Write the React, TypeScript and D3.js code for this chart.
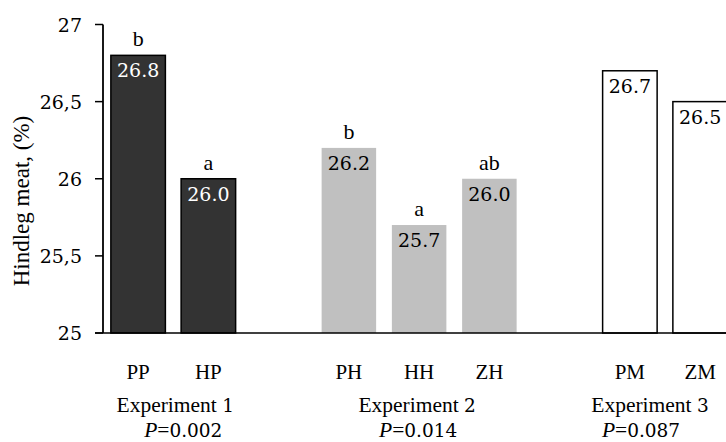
import React from 'react'
import * as d3 from 'd3'

// bars, in drawing order
const categories = ['PP', 'HP', 'PH', 'HH', 'ZH', 'PM', 'ZM']
const values = [26.8, 26.0, 26.2, 25.7, 26.0, 26.7, 26.5]
const letters = ['b', 'a', 'b', 'a', 'ab', '', '']
const groupOf = [0, 0, 1, 1, 1, 2, 2]
const experimentNames = ['Experiment', 'Experiment', 'Experiment']
const experimentNums = ['1', '2', '3']
const pValues = ['0.002', '0.014', '0.087']
const yTicks = [25, 25.5, 26, 26.5, 27]

const W = 726
const H = 442
const FONT = '"Liberation Serif", "Times New Roman", serif'
// digits come out sans in the serif face here, so numbers use DejaVu Serif a bit smaller
const NUM = '"DejaVu Serif", serif'
const NUM_SIZE = 19

const groupFill = ['#333333', '#c0c0c0', '#ffffff']
const groupStroke = ['#000000', 'none', '#000000']
const groupText = ['#ffffff', '#000000', '#000000']
// small nudges of the group captions (the source figure was cropped on the right)
const expNudge = [2, -2, -15]
const pNudge = [10, -1, -24]

export default function App() {
  // slots with a spacer between experiments
  const slots: string[] = []
  categories.forEach((c, i) => {
    if (i > 0 && groupOf[i] !== groupOf[i - 1]) slots.push('gap' + i)
    slots.push(c)
  })

  const axisX = 103
  const y = d3.scaleLinear().domain([25, 27]).range([333, 24.5])
  const x = d3.scaleBand<string>()
    .domain(slots)
    .range([axisX, axisX + 632.25])
    .paddingInner(0.224)
    .paddingOuter(0.112)
  const bw = x.bandwidth()
  const fmtTick = (v: number) => d3.format('.1~f')(v).replace('.', ',')

  const groupCenter = (g: number) => {
    const xs = categories.filter((_, i) => groupOf[i] === g).map(c => (x(c) as number) + bw / 2)
    return (d3.min(xs)! + d3.max(xs)!) / 2
  }

  return (
    <svg width={W} height={H} style={{ position: 'absolute', left: 0, top: 0, fontFamily: FONT }}>
      <rect width={W} height={H} fill="#fff" />

      {/* bars */}
      {categories.map((c, i) => {
        const g = groupOf[i]
        const x0 = x(c) as number
        const top = y(values[i])
        return (
          <g key={c}>
            <rect x={x0} y={top} width={bw} height={y(25) - top}
              fill={groupFill[g]} stroke={groupStroke[g]} strokeWidth={1.5} />
            <text x={x0 + bw / 2} y={top + 22} textAnchor="middle" fontFamily={NUM} fontSize={NUM_SIZE} fill={groupText[g]}>
              {values[i].toFixed(1)}
            </text>
            {letters[i] && (
              <text x={x0 + bw / 2} y={top - 9} textAnchor="middle" fontSize={22} fill="#000">{letters[i]}</text>
            )}
            <text x={x0 + bw / 2} y={379} textAnchor="middle" fontSize={21} fill="#000">{c}</text>
          </g>
        )
      })}

      {/* y axis */}
      <line x1={axisX} x2={axisX} y1={y(27)} y2={y(25)} stroke="#000" strokeWidth={1.8} />
      {yTicks.map(t => (
        <g key={t}>
          <line x1={axisX - 8} x2={axisX} y1={y(t)} y2={y(t)} stroke="#000" strokeWidth={1.5} />
          <text x={82} y={y(t) + 7} textAnchor="end" fontFamily={NUM} fontSize={NUM_SIZE} fill="#000">{fmtTick(t)}</text>
        </g>
      ))}
      {/* x axis */}
      <line x1={axisX - 8} x2={W} y1={y(25)} y2={y(25)} stroke="#000" strokeWidth={1.5} />

      <text transform={`translate(29,201) rotate(-90)`} textAnchor="middle" fontSize={23} fill="#000">
        Hindleg meat, (%)
      </text>

      {/* group captions */}
      {experimentNames.map((e, g) => (
        <g key={g}>
          <text x={groupCenter(g) + expNudge[g]} y={412} textAnchor="middle" fontSize={21.5} fill="#000">
            {e} <tspan fontFamily={NUM} fontSize={18.5}>{experimentNums[g]}</tspan>
          </text>
          <text x={groupCenter(g) + pNudge[g]} y={436.5} textAnchor="middle" fontSize={21.5} fill="#000">
            <tspan fontStyle="italic">P</tspan>=<tspan fontFamily={NUM} fontSize={18.5}>{pValues[g]}</tspan>
          </text>
        </g>
      ))}
    </svg>
  )
}
